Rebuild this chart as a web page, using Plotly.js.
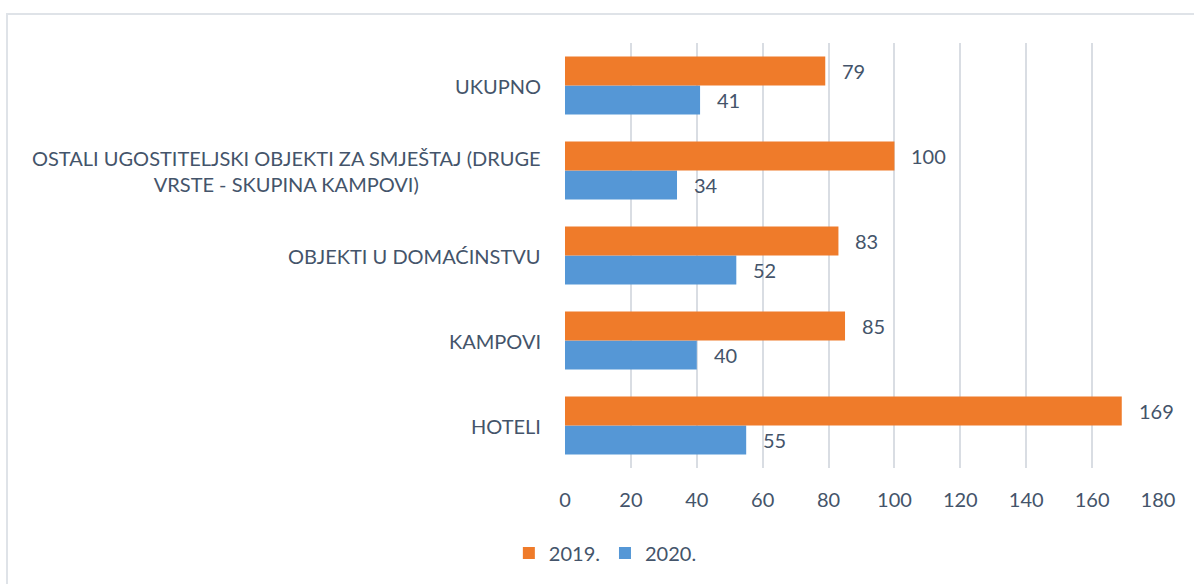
<!DOCTYPE html>
<html>
<head>
<meta charset="utf-8">
<script src="https://cdn.plot.ly/plotly-3.0.1.min.js"></script>
<style>
  html, body { margin: 0; padding: 0; background: #fff; overflow: hidden; }
  #frame { position: absolute; left: 6px; top: 13px; width: 1210px; height: 600px; border: 2px solid #dfe3e8; box-sizing: border-box; }
  #chart { position: absolute; left: 0; top: 0; width: 1194px; height: 584px; }
</style>
</head>
<body>
<div id="frame"></div>
<div id="chart"></div>
<script>
const categories = ["HOTELI", "KAMPOVI", "OBJEKTI U DOMAĆINSTVU", "OSTALI UGOSTITELJSKI OBJEKTI ZA SMJEŠTAJ (DRUGE<br>VRSTE - SKUPINA KAMPOVI)", "UKUPNO"];
const values2019 = [169, 85, 83, 100, 79];
const values2020 = [55, 40, 52, 34, 41];
const seriesNames = ["2019.", "2020."];
const xTicks = [0, 20, 40, 60, 80, 100, 120, 140, 160, 180];

const FONT = "Lato, 'Open Sans', sans-serif";
const TXT = "#44546A";

const t2020 = {
  type: "bar", orientation: "h", name: seriesNames[1],
  y: categories, x: values2020,
  marker: { color: "#5597D6" }, hoverinfo: "x"
};
const t2019 = {
  type: "bar", orientation: "h", name: seriesNames[0],
  y: categories, x: values2019,
  marker: { color: "#EF7B2A" }, hoverinfo: "x"
};

const annotations = [];
categories.forEach((c, i) => {
  annotations.push({ x: 0, y: c, xref: "x", yref: "y", text: c, showarrow: false,
    xanchor: "right", yanchor: "middle", align: "center", xshift: -22,
    font: { family: FONT, size: 20, color: TXT } });
  annotations.push({ x: values2019[i], y: c, xref: "x", yref: "y", text: String(values2019[i]),
    showarrow: false, xanchor: "left", yanchor: "middle", xshift: 15, yshift: 14.5,
    font: { family: FONT, size: 20, color: TXT } });
  annotations.push({ x: values2020[i], y: c, xref: "x", yref: "y", text: String(values2020[i]),
    showarrow: false, xanchor: "left", yanchor: "middle", xshift: 15, yshift: -14.5,
    font: { family: FONT, size: 20, color: TXT } });
});

const layout = {
  width: 1194, height: 584,
  margin: { l: 565, r: 36, t: 43, b: 116 },
  paper_bgcolor: "rgba(0,0,0,0)", plot_bgcolor: "rgba(0,0,0,0)",
  barmode: "group", bargap: 0.32, bargroupgap: 0,
  font: { family: FONT, size: 20, color: TXT },
  xaxis: {
    range: [0, 180], tickvals: xTicks, ticktext: xTicks.map(String),
    showgrid: true, gridcolor: "#D9DDE3", gridwidth: 2,
    zeroline: false, showline: false, ticks: "", ticklabelstandoff: 18,
    tickfont: { family: FONT, size: 20, color: TXT }, fixedrange: true
  },
  yaxis: {
    type: "category", categoryorder: "array", categoryarray: categories,
    showticklabels: false, showgrid: false, zeroline: false, showline: false, ticks: "", fixedrange: true
  },
  legend: {
    orientation: "h", xref: "container", yref: "container",
    x: 0.507, y: 0.053, xanchor: "center", yanchor: "middle",
    traceorder: "reversed", font: { family: FONT, size: 20, color: TXT },
    itemwidth: 30
  },
  showlegend: true,
  annotations: annotations
};

Plotly.newPlot("chart", [t2020, t2019], layout, { displayModeBar: false, staticPlot: true });
</script>
</body>
</html>
